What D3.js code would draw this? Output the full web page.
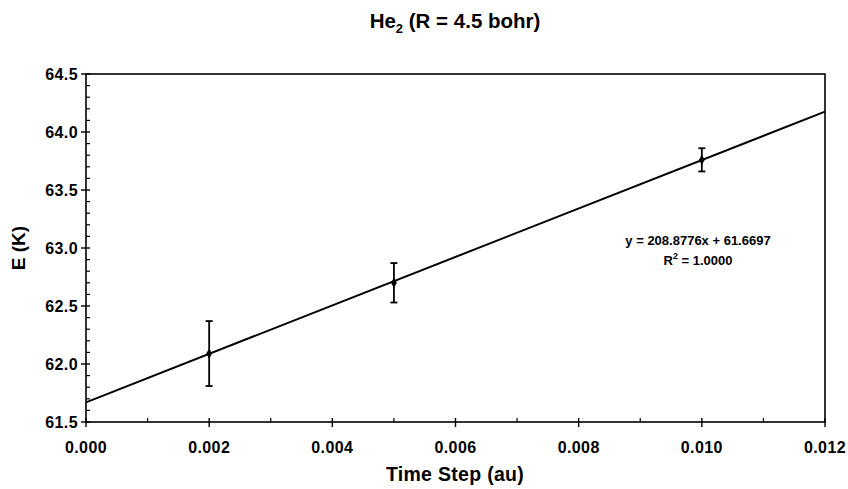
<!DOCTYPE html>
<html>
<head>
<meta charset="utf-8">
<script src="https://cdn.jsdelivr.net/npm/d3@7"></script>
<style>
  html, body { margin: 0; padding: 0; background: #fff; }
  text { font-family: "Liberation Sans", Arial, sans-serif; font-weight: bold; fill: #000; }
</style>
</head>
<body>
<svg id="chart" width="848" height="489"></svg>
<script>
// Time steps (au), energies (K) and their error bars
const timeSteps = [0.002, 0.005, 0.010];
const energies = [62.09, 62.70, 63.76];
const errors = [0.28, 0.17, 0.10];

// Linear fit reported on the chart
const fitSlope = 208.8776;
const fitIntercept = 61.6697;
const fitLabels = ["y = 208.8776x + 61.6697", "R2 = 1.0000"];

const xTicks = [0, 0.002, 0.004, 0.006, 0.008, 0.010, 0.012];
const xMinor = [0.001, 0.003, 0.005, 0.007, 0.009, 0.011];
const yTicks = [61.5, 62.0, 62.5, 63.0, 63.5, 64.0, 64.5];
const yMinor = d3.range(61.6, 64.45, 0.1).filter(v => Math.abs(v * 2 - Math.round(v * 2)) > 0.01);

const svg = d3.select("#chart");
const m = { left: 86, right: 825, top: 74, bottom: 422 };

const x = d3.scaleLinear().domain([0, 0.012]).range([m.left, m.right]);
const y = d3.scaleLinear().domain([61.5, 64.5]).range([m.bottom, m.top]);

// Plot frame
svg.append("rect")
  .attr("x", m.left).attr("y", m.top)
  .attr("width", m.right - m.left).attr("height", m.bottom - m.top)
  .attr("fill", "none").attr("stroke", "#000").attr("stroke-width", 1.6);

// X axis: major ticks cross, minor ticks point inward
const gx = svg.append("g").attr("transform", `translate(0,${m.bottom})`);
gx.selectAll("line.maj").data(xTicks).join("line")
  .attr("x1", d => x(d)).attr("x2", d => x(d)).attr("y1", -4).attr("y2", 5)
  .attr("stroke", "#000").attr("stroke-width", 1.4);
gx.selectAll("line.min").data(xMinor).join("line")
  .attr("x1", d => x(d)).attr("x2", d => x(d)).attr("y1", -4).attr("y2", 0)
  .attr("stroke", "#000").attr("stroke-width", 1.2);
gx.selectAll("text").data(xTicks).join("text")
  .attr("x", d => x(d)).attr("y", 31)
  .attr("text-anchor", "middle").attr("font-size", 16).attr("letter-spacing", 0.4)
  .text(d => d3.format(".3f")(d));

// Y axis
const gy = svg.append("g").attr("transform", `translate(${m.left},0)`);
gy.selectAll("line.maj").data(yTicks).join("line")
  .attr("x1", -5).attr("x2", 4).attr("y1", d => y(d)).attr("y2", d => y(d))
  .attr("stroke", "#000").attr("stroke-width", 1.4);
gy.selectAll("line.min").data(yMinor).join("line")
  .attr("x1", 0).attr("x2", 4).attr("y1", d => y(d)).attr("y2", d => y(d))
  .attr("stroke", "#000").attr("stroke-width", 1.2);
gy.selectAll("text").data(yTicks).join("text")
  .attr("x", -8).attr("y", d => y(d)).attr("dy", "0.36em")
  .attr("text-anchor", "end").attr("font-size", 16).attr("letter-spacing", 0.4)
  .text(d => d3.format(".1f")(d));

// Fitted line across the full x domain
const fit = d3.line().x(d => x(d)).y(d => y(fitSlope * d + fitIntercept));
svg.append("path").datum([0, 0.012])
  .attr("d", fit).attr("fill", "none").attr("stroke", "#000").attr("stroke-width", 2);

// Error bars and points
const pts = timeSteps.map((t, i) => ({ t, e: energies[i], err: errors[i] }));
const eb = svg.append("g").attr("stroke", "#000").attr("stroke-width", 1.8);
eb.selectAll("line.v").data(pts).join("line")
  .attr("x1", d => x(d.t)).attr("x2", d => x(d.t))
  .attr("y1", d => y(d.e + d.err)).attr("y2", d => y(d.e - d.err));
eb.selectAll("line.top").data(pts).join("line")
  .attr("x1", d => x(d.t) - 3.5).attr("x2", d => x(d.t) + 3.5)
  .attr("y1", d => y(d.e + d.err)).attr("y2", d => y(d.e + d.err));
eb.selectAll("line.bot").data(pts).join("line")
  .attr("x1", d => x(d.t) - 3.5).attr("x2", d => x(d.t) + 3.5)
  .attr("y1", d => y(d.e - d.err)).attr("y2", d => y(d.e - d.err));
svg.append("g").selectAll("path").data(pts).join("path")
  .attr("transform", d => `translate(${x(d.t)},${y(d.e)})`)
  .attr("d", d3.symbol().type(d3.symbolDiamond).size(30))
  .attr("fill", "#000");

// Fit equation
svg.append("text").attr("x", 698).attr("y", 245)
  .attr("text-anchor", "middle").attr("font-size", 13).text(fitLabels[0]);
const r2 = svg.append("text").attr("x", 698).attr("y", 265)
  .attr("text-anchor", "middle").attr("font-size", 13);
r2.append("tspan").text("R");
r2.append("tspan").attr("dy", -6).attr("font-size", 9).text("2");
r2.append("tspan").attr("dy", 6).text(" = 1.0000");

// Title
const title = svg.append("text").attr("x", 455).attr("y", 28)
  .attr("text-anchor", "middle").attr("font-size", 20.5);
title.append("tspan").text("He");
title.append("tspan").attr("dy", 5).attr("font-size", 13).text("2");
title.append("tspan").attr("dy", -5).text(" (R = 4.5 bohr)");

// Axis titles
svg.append("text").attr("x", 455).attr("y", 481)
  .attr("text-anchor", "middle").attr("font-size", 19.5).attr("letter-spacing", 0.3).text("Time Step (au)");
svg.append("text").attr("transform", "translate(25,248) rotate(-90)")
  .attr("text-anchor", "middle").attr("font-size", 19).text("E (K)");
</script>
</body>
</html>
